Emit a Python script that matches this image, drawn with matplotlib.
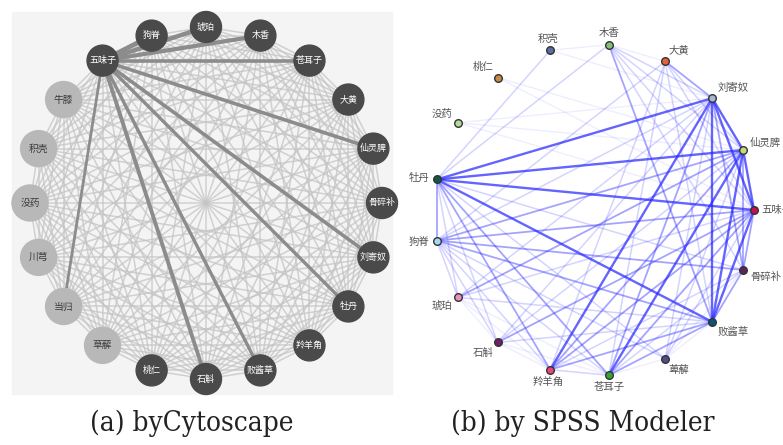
import numpy as np
import matplotlib.pyplot as plt
from matplotlib.patches import Circle, Rectangle
from matplotlib.collections import LineCollection
from itertools import combinations

plt.rcParams['font.family'] = ['Noto Sans CJK SC', 'DejaVu Sans']

# (a) cytoscape circle layout, counter-clockwise starting at 3 o'clock
herbs_a = ['骨碎补', '仙灵脾', '大黄', '苍耳子', '木香', '琥珀', '狗脊', '五味子', '牛膝', '积壳',
           '没药', '川芎', '当归', '草薢', '桃仁', '石斛', '败酱草', '羚羊角', '牡丹', '刘寄奴']
light_a = ['牛膝', '积壳', '没药', '川芎', '当归', '草薢']
hub_a = '五味子'
strong_a = ['狗脊', '琥珀', '木香', '苍耳子', '仙灵脾', '刘寄奴', '牡丹', '败酱草', '石斛', '当归']
strong_w = [3.4, 3.2, 3.0, 2.6, 2.6, 2.6, 2.4, 2.4, 2.8, 2.0]

# (b) SPSS web graph, counter-clockwise starting at 3 o'clock
herbs_b = ['五味子', '仙灵脾', '刘寄奴', '大黄', '木香', '积壳', '桃仁', '没药', '牡丹',
           '狗脊', '琥珀', '石斛', '羚羊角', '苍耳子', '萆薢', '败酱草', '骨碎补']
colors_b = ['#c8104e', '#c4dc78', '#a8b8d4', '#e8603c', '#84c070', '#5870a0', '#c88a44',
            '#b4dc98', '#0a5a44', '#a8d8f4', '#e894b8', '#742064', '#ee4478', '#30a830',
            '#504c88', '#0c5474', '#5c2458']

# link strength 1 (weak) .. 4 (strong)
links_b = [
    ('牡丹', '刘寄奴', 4), ('牡丹', '仙灵脾', 4), ('牡丹', '五味子', 4), ('牡丹', '败酱草', 4),
    ('刘寄奴', '败酱草', 4), ('刘寄奴', '羚羊角', 4), ('仙灵脾', '苍耳子', 4),
    ('刘寄奴', '五味子', 4), ('仙灵脾', '五味子', 4), ('仙灵脾', '败酱草', 4),
    ('五味子', '败酱草', 4), ('刘寄奴', '仙灵脾', 4),
    ('仙灵脾', '骨碎补', 3), ('刘寄奴', '骨碎补', 3), ('五味子', '骨碎补', 3),
    ('刘寄奴', '苍耳子', 3), ('狗脊', '五味子', 3), ('狗脊', '仙灵脾', 3), ('狗脊', '骨碎补', 3),
    ('狗脊', '败酱草', 3), ('牡丹', '羚羊角', 3), ('牡丹', '苍耳子', 3), ('牡丹', '狗脊', 3),
    ('木香', '败酱草', 3), ('大黄', '刘寄奴', 3), ('羚羊角', '五味子', 3), ('羚羊角', '仙灵脾', 3),
    ('羚羊角', '败酱草', 3), ('苍耳子', '五味子', 3), ('苍耳子', '败酱草', 3),
    ('骨碎补', '败酱草', 3), ('琥珀', '仙灵脾', 3), ('石斛', '五味子', 3),
    ('木香', '牡丹', 2), ('木香', '刘寄奴', 2), ('木香', '仙灵脾', 2), ('木香', '五味子', 2),
    ('木香', '骨碎补', 2), ('大黄', '仙灵脾', 2), ('大黄', '五味子', 2), ('大黄', '败酱草', 2),
    ('大黄', '狗脊', 2), ('大黄', '羚羊角', 2), ('大黄', '苍耳子', 2), ('积壳', '牡丹', 2),
    ('琥珀', '五味子', 2), ('琥珀', '刘寄奴', 2), ('琥珀', '败酱草', 2), ('石斛', '仙灵脾', 2),
    ('石斛', '败酱草', 2), ('石斛', '刘寄奴', 2), ('萆薢', '仙灵脾', 2), ('萆薢', '五味子', 2),
    ('萆薢', '刘寄奴', 2), ('萆薢', '牡丹', 2), ('萆薢', '狗脊', 2), ('羚羊角', '狗脊', 2),
    ('羚羊角', '骨碎补', 2), ('苍耳子', '狗脊', 2), ('苍耳子', '骨碎补', 2),
    ('苍耳子', '羚羊角', 2), ('牡丹', '骨碎补', 2), ('牡丹', '琥珀', 2), ('牡丹', '石斛', 2),
    ('狗脊', '刘寄奴', 2), ('狗脊', '琥珀', 2), ('狗脊', '石斛', 2),
    ('桃仁', '仙灵脾', 1), ('桃仁', '五味子', 1), ('没药', '五味子', 1), ('没药', '仙灵脾', 1),
    ('积壳', '刘寄奴', 1), ('积壳', '木香', 1), ('琥珀', '石斛', 1), ('琥珀', '羚羊角', 1),
    ('石斛', '羚羊角', 1), ('石斛', '苍耳子', 1), ('萆薢', '苍耳子', 1), ('萆薢', '败酱草', 1),
    ('琥珀', '苍耳子', 1), ('萆薢', '骨碎补', 1), ('木香', '大黄', 1), ('没药', '刘寄奴', 1),
]
link_style = {1: (0.08, 1.0), 2: (0.2, 1.1), 3: (0.42, 1.3), 4: (0.72, 1.7)}

captions = ['(a) byCytoscape', '(b) by SPSS Modeler']

fig = plt.figure(figsize=(7.83, 4.45), dpi=100)
ax = fig.add_axes([0, 0, 1, 1])
ax.set_xlim(0, 783)
ax.set_ylim(445, 0)
ax.axis('off')

# ---- panel a ----
ax.add_patch(Rectangle((12, 12), 380, 382, color='#f4f4f4', zorder=0))
cx, cy, r = 206, 203, 176
ang = np.deg2rad(np.arange(len(herbs_a)) * 360 / len(herbs_a))
pos_a = {h: (cx + r * np.cos(a), cy - r * np.sin(a)) for h, a in zip(herbs_a, ang)}

segs = [[pos_a[p], pos_a[q]] for p, q in combinations(herbs_a, 2)]
ax.add_collection(LineCollection(segs, colors='#c4c4c4', linewidths=1.1, alpha=0.75, zorder=1))
segs = [[pos_a[hub_a], pos_a[h]] for h in strong_a]
ax.add_collection(LineCollection(segs, colors='#8c8c8c', linewidths=strong_w, zorder=2))

for h in herbs_a:
    x, y = pos_a[h]
    if h in light_a:
        ax.add_patch(Circle((x, y), 18, color='#b8b8b8', zorder=3))
        ax.text(x, y, h, color='#3a3a3a', fontsize=7, ha='center', va='center', zorder=4)
    else:
        ax.add_patch(Circle((x, y), 15.5, color='#4a4a4a', zorder=3))
        ax.text(x, y, h, color='white', fontsize=6.5, ha='center', va='center', zorder=4)

# ---- panel b ----
cx, cy, rx, ry = 594, 210, 160, 166
ang = np.deg2rad(np.arange(len(herbs_b)) * 360 / len(herbs_b))
pos_b = {h: (cx + rx * np.cos(a), cy - ry * np.sin(a)) for h, a in zip(herbs_b, ang)}

for lvl in [1, 2, 3, 4]:
    segs = [[pos_b[p], pos_b[q]] for p, q, s in links_b if s == lvl]
    a, lw = link_style[lvl]
    ax.add_collection(LineCollection(segs, colors='#2828ff', linewidths=lw, alpha=a, zorder=5))

for h, c, a in zip(herbs_b, colors_b, ang):
    x, y = pos_b[h]
    ax.scatter(x, y, s=30, color=c, edgecolor='#333333', linewidth=1.0, zorder=6)
    ca, sa = np.cos(a), np.sin(a)
    ha = 'left' if ca > 0.35 else ('right' if ca < -0.35 else 'center')
    va = 'bottom' if sa > 0.35 else ('top' if sa < -0.35 else 'center')
    ax.text(x + 7 * ca, y - 7 * sa, h, color='#555555', fontsize=7.5, ha=ha, va=va, zorder=7)

# ---- captions ----
for x, t in zip([192, 583], captions):
    ax.text(x, 423, t, fontsize=20, ha='center', va='center', color='#222222',
            family=['DejaVu Serif Condensed', 'DejaVu Serif'], fontstretch='condensed')

fig.savefig('out.png', dpi=100)
